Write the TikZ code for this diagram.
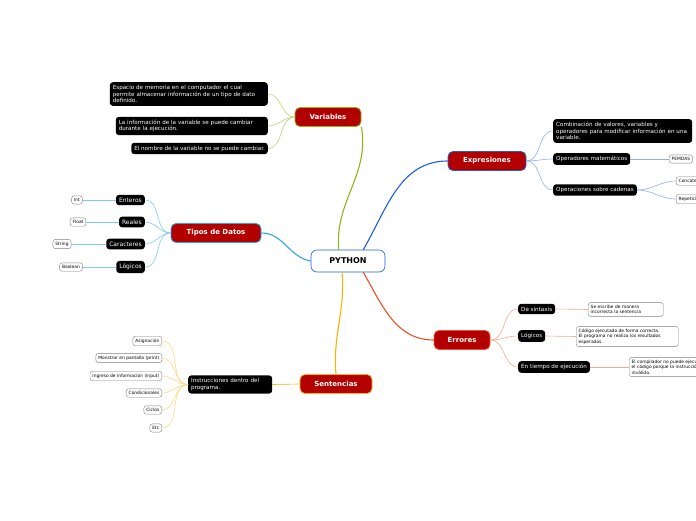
\documentclass[tikz,border=0pt]{standalone}
\usepackage{fontspec}
\setmainfont{DejaVu Sans}
\hyphenpenalty=10000 \exhyphenpenalty=10000
\begin{document}
\hyphenpenalty=10000
\begin{tikzpicture}[x=1pt,y=-1pt,
 main/.style={draw=#1,fill=red!70!black,text=white,rounded corners=5pt,font=\fontsize{7}{8}\selectfont\bfseries,minimum height=19pt,line width=0.8pt},
 blk/.style={fill=black,text=white,rounded corners=3pt,font=\fontsize{5.6}{6.6}\selectfont,inner sep=3pt,align=left},
 wht/.style={draw=gray,fill=white,rounded corners=2.5pt,font=\fontsize{4.4}{5.4}\selectfont,inner sep=2.5pt,align=left},
 br/.style={line width=1.1pt,#1},
 sb/.style={line width=0.6pt,#1}]
\useasboundingbox (0,0) rectangle (696,520);
\clip (0,0) rectangle (696,520);
\definecolor{cg}{HTML}{8BB51A}\definecolor{cb}{HTML}{2AA8E0}\definecolor{cd}{HTML}{1A5FD6}
\definecolor{co}{HTML}{F04E23}\definecolor{cy}{HTML}{F5B400}
\node[draw=cd,fill=white,rounded corners=6pt,font=\fontsize{8}{9}\selectfont\bfseries,minimum width=74pt,minimum height=22pt,line width=0.6pt] (py) at (348,261) {PYTHON};
\node[main=cg,minimum width=66pt] (var) at (328,117) {Variables};
\node[main=cb,minimum width=90pt] (tip) at (216,233) {Tipos de Datos};
\node[main=cd,minimum width=78pt] (exp) at (487,161) {Expresiones};
\node[main=co,minimum width=56pt] (err) at (462,340) {Errores};
\node[main=cy,minimum width=72pt] (sen) at (336,384) {Sentencias};
\draw[br=cg] (py.north west)++(28,0) coordinate (a1) to[out=95,in=-80] (var.south east);
\draw[br=cb] (py.west) to[out=170,in=0] (tip.east);
\draw[br=cd] (py.north east)++(-22,0) to[out=60,in=180] (exp.west);
\draw[br=co] (py.south east)++(-22,0) to[out=-60,in=180] (err.west);
\draw[br=cy] (py.south)++(-6,0) to[out=-85,in=95] (sen.north);
% Variables
\node[blk,text width=152pt,anchor=east] (v1) at (268,94) {\raggedright\hyphenpenalty=10000 Espacio de memoria en el computador el cual permite almacenar información de un tipo de dato definido.};
\node[blk,text width=146pt,anchor=east] (v2) at (268,126) {\raggedright\hyphenpenalty=10000 La información de la variable se puede cambiar durante la ejecución.};
\node[blk,anchor=east] (v3) at (268,148.5) {El nombre de la variable no se puede cambiar.};
\foreach \n in {v1,v2,v3}\draw[sb=cg!60] (var.west) to[out=180,in=0] (\n.east);
% Tipos
\foreach \n/\t/\y/\w/\wt in {t1/Enteros/200/Int/77,t2/Reales/222/Float/78,t3/Caracteres/244/String/62,t4/Lógicos/267/Boolean/71}{
 \node[blk,anchor=east,font=\fontsize{6}{7}\selectfont] (\n) at (145,\y) {\t};
 \node[wht] (\n w) at (\wt,\y) {\w};
 \draw[sb=cb!60] (tip.west) to[out=180,in=0] (\n.east);
 \draw[sb=cb!60] (\n.west) -- (\n w.east);}
% Expresiones
\node[blk,text width=133pt,anchor=west] (e1) at (553,131) {\raggedright\hyphenpenalty=10000 Combinación de valores, variables y operadores para modificar información en una variable.};
\node[blk,anchor=west] (e2) at (553,159) {Operadores matemáticos};
\node[blk,anchor=west] (e3) at (553,190) {Operaciones sobre cadenas};
\node[wht,anchor=west] (e2a) at (669,159) {PEMDAS};
\node[wht,anchor=west] (e3a) at (676,181) {Concatenación};
\node[wht,anchor=west] (e3b) at (676,199) {Repetición};
\foreach \n in {e1,e2,e3}\draw[sb=cd!50] (exp.east) to[out=0,in=180] (\n.west);
\draw[sb=cd!50] (e2.east) -- (e2a.west);
\foreach \n in {e3a,e3b}\draw[sb=cd!50] (e3.east) to[out=0,in=180] (\n.west);
% Errores
\node[blk,anchor=west] (r1) at (518,309) {De sintaxis};
\node[blk,anchor=west] (r2) at (518,336) {Lógicos};
\node[blk,anchor=west] (r3) at (518,367) {En tiempo de ejecución};
\node[wht,anchor=west,text width=70pt] (r1a) at (588,309.5) {\raggedright\hyphenpenalty=10000 Se escribe de manera incorrecta la sentencia};
\node[wht,anchor=west,text width=97pt] (r2a) at (576,336.5) {\raggedright\hyphenpenalty=10000 Código ejecutado de forma correcta. El programa no realiza los resultados esperados.};
\node[wht,anchor=west,text width=76pt] (r3a) at (629,367) {\raggedright\hyphenpenalty=10000 El compilador no puede ejecutar el código porque la instrucción es inválida.};
\foreach \n in {r1,r2,r3}\draw[sb=co!50] (err.east) to[out=0,in=180] (\n.west);
\foreach \n in {r1,r2,r3}\draw[sb=co!50] (\n.east) -- (\n a.west);
% Sentencias
\node[blk,text width=78pt,anchor=west] (s0) at (188,384.5) {\raggedright\hyphenpenalty=10000 Instrucciones dentro del programa.};
\draw[sb=cy] (sen.west) -- (s0.east);
\foreach \n/\t/\y in {s1/Asignación/341,s2/Monstrar en pantalla (print)/358,s3/Ingreso de información (input)/376,s4/Condicionales/393,s5/Ciclos/410,s6/Etc/428}{
 \node[wht,anchor=east] (\n) at (162,\y) {\t};
 \draw[sb=cy!50] (s0.west) to[out=180,in=0] (\n.east);}
\end{tikzpicture}
\end{document}
